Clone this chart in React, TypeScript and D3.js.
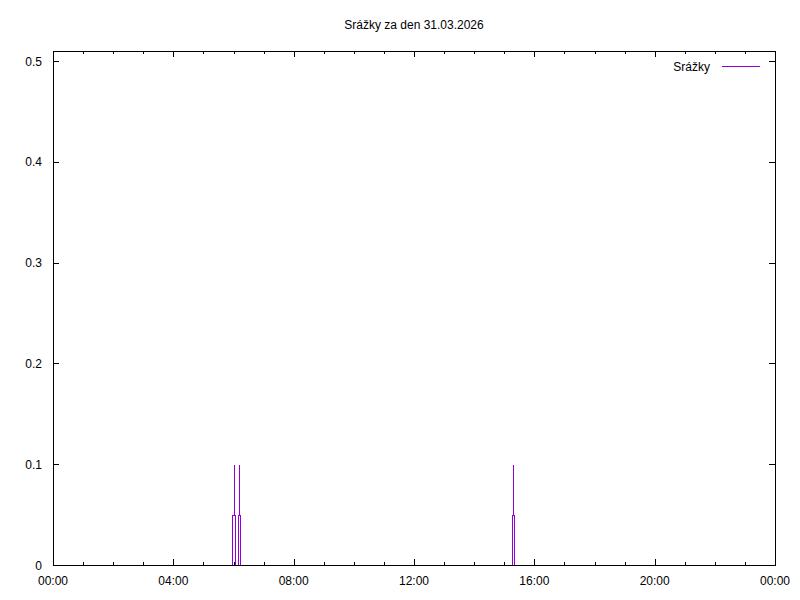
import React from "react";
import * as d3 from "d3";

const title = "Srážky za den 31.03.2026";
const seriesName = "Srážky";
// step series: minutes since midnight, precipitation value (mm)
const times = [0, 359, 361, 362, 363, 369, 371, 372, 373, 916, 918, 919, 920, 1440];
const values = [0, 0.05, 0.1, 0.05, 0, 0.05, 0.1, 0.05, 0, 0.05, 0.1, 0.05, 0, 0];
const yTicks = [0, 0.1, 0.2, 0.3, 0.4, 0.5];
const xMajorTicks = [0, 240, 480, 720, 960, 1200, 1440];
const xTickLabels = ["00:00", "04:00", "08:00", "12:00", "16:00", "20:00", "00:00"];
const xMinorTicks = d3.range(0, 1441, 60);

const W = 800, H = 600;
const L = 53, R = 775, T = 51, B = 565;
const color = "#9400D3";
const font = "'Liberation Sans', Arial, sans-serif";

export default function App() {
  const x = d3.scaleLinear().domain([0, 1440]).range([L, R]);
  const y = d3.scaleLinear().domain([0, 0.51]).range([B, T]);
  const snapX = (t: number) => Math.floor(x(t) + 1e-6) + 0.5;
  const snapY = (v: number) => Math.round(y(v)) + 0.5;
  const pts: [number, number][] = times.map((t, i) => [t, values[i]]);
  const line = d3
    .line<[number, number]>()
    .x((d) => snapX(d[0]))
    .y((d) => snapY(d[1]))
    .curve(d3.curveStepAfter);
  const tx = (t: number) => Math.round(x(t)) + 0.5;
  return (
    <svg width={W} height={H} style={{ position: "absolute", left: 0, top: 0, background: "#fff" }}>
      <rect x={0} y={0} width={W} height={H} fill="#fff" />
      <text x={(L + R) / 2} y={29} textAnchor="middle" fontFamily={font} fontSize={12} fill="#000">{title}</text>
      {yTicks.map((t, i) => (
        <g key={"y" + i}>
          <line x1={L} x2={L + 6} y1={snapY(t)} y2={snapY(t)} stroke="#000" />
          <line x1={R} x2={R - 6} y1={snapY(t)} y2={snapY(t)} stroke="#000" />
          <text x={42} y={y(t) + 4.5} textAnchor="end" fontFamily={font} fontSize={12} fill="#000">{t === 0 ? "0" : String(t)}</text>
        </g>
      ))}
      {xMinorTicks.map((t, i) => (
        <g key={"xm" + i}>
          <line x1={tx(t)} x2={tx(t)} y1={B} y2={B - 3} stroke="#000" />
          <line x1={tx(t)} x2={tx(t)} y1={T} y2={T + 3} stroke="#000" />
        </g>
      ))}
      {xMajorTicks.map((t, i) => (
        <g key={"x" + i}>
          <line x1={tx(t)} x2={tx(t)} y1={B} y2={B - 6} stroke="#000" />
          <line x1={tx(t)} x2={tx(t)} y1={T} y2={T + 6} stroke="#000" />
          <text x={x(t)} y={585} textAnchor="middle" fontFamily={font} fontSize={12} fill="#000">{xTickLabels[i]}</text>
        </g>
      ))}
      <path d={line(pts) || ""} fill="none" stroke={color} strokeWidth={1} shapeRendering="crispEdges" />
      <text x={710} y={71} textAnchor="end" fontFamily={font} fontSize={12} fill="#000">{seriesName}</text>
      <line x1={722} x2={760} y1={66.5} y2={66.5} stroke={color} />
      <rect x={L + 0.5} y={T + 0.5} width={R - L} height={B - T} fill="none" stroke="#000" />
    </svg>
  );
}
